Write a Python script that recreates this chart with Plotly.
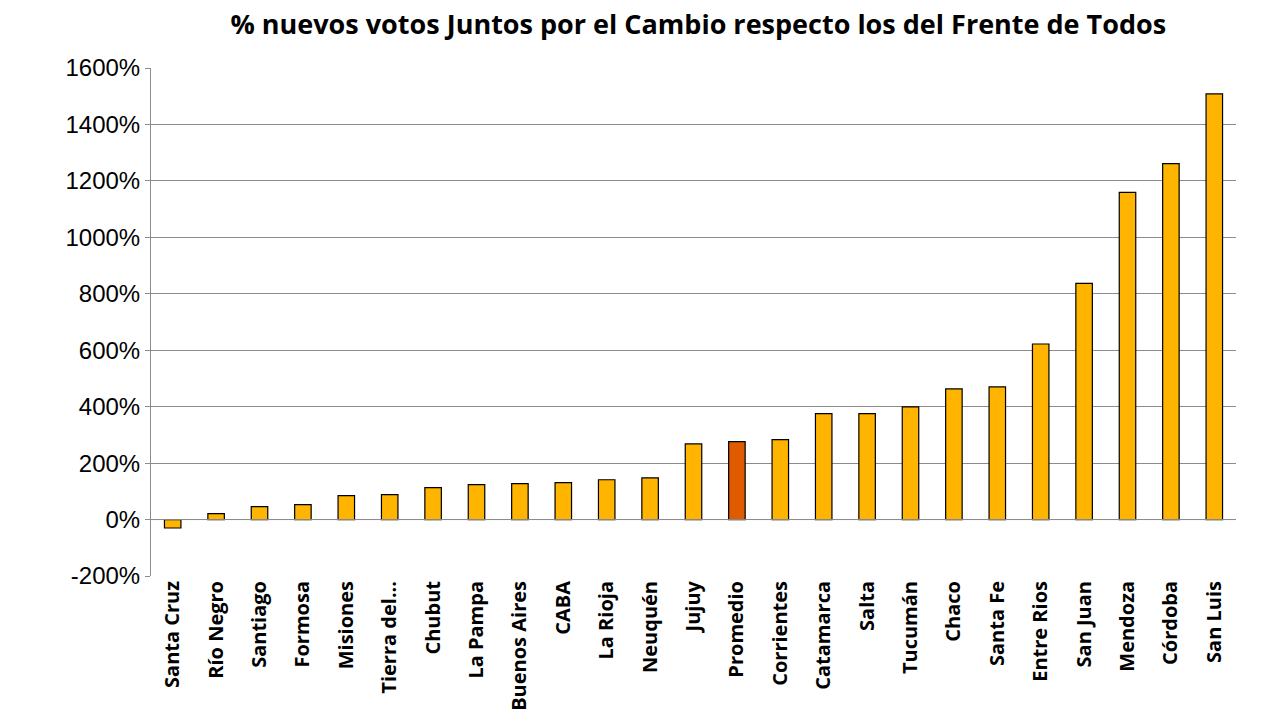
import plotly.graph_objects as go

provinces = ["Santa Cruz","Río Negro","Santiago","Formosa","Misiones","Tierra del...","Chubut","La Pampa","Buenos Aires","CABA","La Rioja","Neuquén","Jujuy","Promedio","Corrientes","Catamarca","Salta","Tucumán","Chaco","Santa Fe","Entre Rios","San Juan","Mendoza","Córdoba","San Luis"]
values = [-30,21,46,53,85,88,113,124,127,131,141,148,268,276,283,375,375,399,463,470,622,837,1159,1261,1508]
tick_vals = [-200,0,200,400,600,800,1000,1200,1400,1600]
tick_text = [f"{v}%" for v in tick_vals]

colors = ["#E05A00" if p == "Promedio" else "#FFB400" for p in provinces]

fig = go.Figure(go.Bar(x=provinces, y=values, marker=dict(color=colors, line=dict(color="black", width=1.2)), width=0.38))
fig.update_layout(
    width=1262, height=715, plot_bgcolor="white", paper_bgcolor="white",
    margin=dict(l=143, r=34, t=60, b=144),
    title=dict(text="<b>% nuevos votos Juntos por el Cambio respecto los del Frente de Todos</b>", x=0.547, xanchor="center", y=0.99, yanchor="top", font=dict(family="Open Sans", size=27, color="black")),
    showlegend=False, font=dict(family="Liberation Sans", color="black"),
)
fig.update_yaxes(range=[-200,1600], tickvals=tick_vals, ticktext=tick_text, tickfont=dict(size=24), showgrid=True, gridcolor="#8c8c8c", gridwidth=1, showline=True, linecolor="#8c8c8c", ticks="outside", ticklen=5, tickcolor="#8c8c8c", zeroline=False)
fig.update_xaxes(tickangle=-90, tickfont=dict(family="Open Sans", size=20, weight="bold"), showline=False, ticks="")
fig.add_hline(y=0, line_color="#8c8c8c", line_width=1)
fig.write_html("out.html")
